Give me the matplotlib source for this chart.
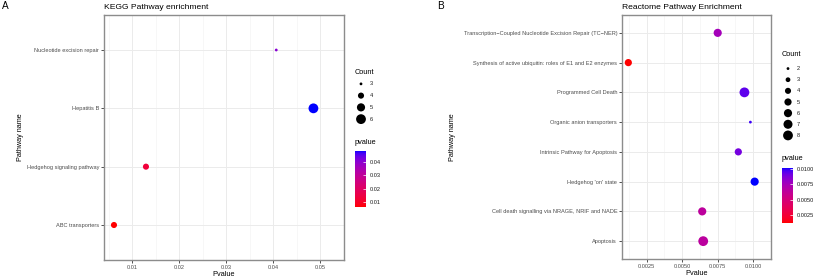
import numpy as np
import matplotlib
matplotlib.use('Agg')
import matplotlib.pyplot as plt
from matplotlib.colors import ListedColormap, Normalize

plt.rcParams['font.family'] = ['Liberation Sans', 'DejaVu Sans']

# KEGG panel data
kegg_terms = ['ABC transporters', 'Hedgehog signaling pathway',
              'Hepatitis B', 'Nucleotide excision repair']
kegg_pvalue = [0.0061, 0.0129, 0.0485, 0.0406]
kegg_count = [4, 4, 6, 3]
kegg_xticks = [0.01, 0.02, 0.03, 0.04, 0.05]
kegg_cticks = [0.01, 0.02, 0.03, 0.04]

# Reactome panel data
react_terms = ['Apoptosis',
               'Cell death signalling via NRAGE, NRIF and NADE',
               "Hedgehog 'on' state",
               'Intrinsic Pathway for Apoptosis',
               'Organic anion transporters',
               'Programmed Cell Death',
               'Synthesis of active ubiquitin: roles of E1 and E2 enzymes',
               'Transcription\u2212Coupled Nucleotide Excision Repair (TC\u2212NER)']
react_pvalue = [0.00648, 0.00641, 0.0101, 0.00895, 0.0098, 0.00938, 0.00121, 0.0075]
react_count = [8, 6, 6, 5, 2, 8, 5, 6]
react_xticks = [0.0025, 0.0050, 0.0075, 0.0100]
react_cticks = [0.0025, 0.0050, 0.0075, 0.0100]

W, H = 818, 279


def box(x0, y0, x1, y1):
    # pixel box (top-left origin) -> figure fraction
    return [x0 / W, 1 - y1 / H, (x1 - x0) / W, (y1 - y0) / H]


def red_blue_lab(n=256):
    # ggplot2 scale_colour_gradient(low='red', high='blue') interpolates in CIELAB
    lo = np.array([53.24, 80.09, 67.20])
    hi = np.array([32.30, 79.19, -107.86])
    t = np.linspace(0, 1, n)[:, None]
    L, a, b = (lo + (hi - lo) * t).T
    fy = (L + 16) / 116
    fx = fy + a / 500
    fz = fy - b / 200
    def finv(f):
        return np.where(f > 6 / 29, f ** 3, 3 * (6 / 29) ** 2 * (f - 4 / 29))
    X, Y, Z = 0.95047 * finv(fx), finv(fy), 1.08883 * finv(fz)
    M = np.array([[3.2406, -1.5372, -0.4986],
                  [-0.9689, 1.8758, 0.0415],
                  [0.0557, -0.2040, 1.0570]])
    rgb = np.clip(M @ np.vstack([X, Y, Z]), 0, 1).T
    rgb = np.where(rgb <= 0.0031308, 12.92 * rgb, 1.055 * rgb ** (1 / 2.4) - 0.055)
    return ListedColormap(np.clip(rgb, 0, 1))


cmap = red_blue_lab()


def msize(c, cmin, cmax, dmin=2.8, dmax=9.8):
    # area-proportional size scale, diameters given in pixels
    t = (np.asarray(c, float) - cmin) / (cmax - cmin)
    d = np.sqrt(dmin ** 2 + (dmax ** 2 - dmin ** 2) * t)
    return (d * 0.72) ** 2


def panel(ax_box, terms, pvals, counts, xticks, fmt, title, letter, letter_x,
          ylab_x, cnt_box, cnt_title_y, cbar_box, ctitle_y, cticks):
    ax = fig.add_axes(box(*ax_box))
    y = np.arange(1, len(terms) + 1)
    norm = Normalize(min(pvals), max(pvals))
    cmin, cmax = min(counts), max(counts)
    ax.scatter(pvals, y, s=msize(counts, cmin, cmax), c=pvals, cmap=cmap,
               norm=norm, linewidths=0, zorder=3)
    span = max(pvals) - min(pvals)
    ax.set_xlim(min(pvals) - 0.05 * span, max(pvals) + 0.05 * span)
    ax.set_ylim(0.4, len(terms) + 0.6)
    ax.set_yticks(y)
    ax.set_yticklabels(terms)
    ax.set_xticks(xticks)
    ax.set_xticklabels([fmt % v for v in xticks])
    step = xticks[1] - xticks[0]
    minor = [xticks[0] - step / 2] + [v + step / 2 for v in xticks]
    ax.set_xticks(minor, minor=True)
    ax.grid(True, which='major', color='#EBEBEB', lw=0.7, zorder=0)
    ax.grid(True, which='minor', axis='x', color='#F2F2F2', lw=0.4, zorder=0)
    ax.set_axisbelow(True)
    ax.tick_params(which='major', length=2, width=0.6, color='#333333',
                   labelsize=4.1, labelcolor='#4D4D4D', pad=1.5)
    ax.tick_params(which='minor', length=0)
    for sp in ax.spines.values():
        sp.set_color('#8C8C8C')
        sp.set_linewidth(1.0)
    ax.set_xlabel('Pvalue', fontsize=5.3, labelpad=0.8)
    ax.set_title(title, loc='left', fontsize=6.1, pad=4)
    fig.text(letter_x / W, 1 - 6 / H, letter, fontsize=7.2, va='center', ha='left')
    fig.text(ylab_x / W, 1 - 137 / H, 'Pathway name', fontsize=5.2,
             rotation=90, va='center', ha='center')

    # size legend
    lx0, ly0, lx1, ly1 = cnt_box
    lg = fig.add_axes(box(*cnt_box))
    keys = list(range(cmin, cmax + 1))
    lg.scatter(np.zeros(len(keys)), keys, s=msize(keys, cmin, cmax),
               color='black', linewidths=0)
    lg.set_xlim(-1, 1)
    lg.set_ylim(cmax + 0.5, cmin - 0.5)
    for k in keys:
        lg.text(1.8, k, str(k), fontsize=4.1, va='center', ha='left',
                color='#1A1A1A')
    lg.axis('off')
    fig.text((lx0 - 1) / W, 1 - cnt_title_y / H, 'Count', fontsize=5.3,
             va='center', ha='left')

    # colour bar
    cx = fig.add_axes(box(*cbar_box))
    sm = plt.cm.ScalarMappable(norm=norm, cmap=cmap)
    cb = fig.colorbar(sm, cax=cx)
    cb.outline.set_visible(False)
    cb.set_ticks(cticks)
    cb.set_ticklabels([fmt % v for v in cticks])
    cx.tick_params(length=2, width=0.5, color='white', labelsize=4.1,
                   labelcolor='#1A1A1A', pad=3, direction='in')
    fig.text(cbar_box[0] / W, 1 - ctitle_y / H, 'pvalue', fontsize=5.3,
             va='center', ha='left')
    return ax


fig = plt.figure(figsize=(W / 100, H / 100), dpi=100)

panel((104, 15, 344, 260), kegg_terms, kegg_pvalue, kegg_count, kegg_xticks,
      '%.2f', 'KEGG Pathway enrichment', 'A', 2, 20,
      (356, 78, 366, 125), 72.5, (355, 151, 366, 207), 142, kegg_cticks)

panel((622, 15, 771, 259), react_terms, react_pvalue, react_count, react_xticks,
      '%.4f', 'Reactome Pathway Enrichment', 'B', 437, 453,
      (783, 63, 793, 141), 55, (782, 168, 793, 223), 159, react_cticks)

fig.savefig('out.png', dpi=100)
